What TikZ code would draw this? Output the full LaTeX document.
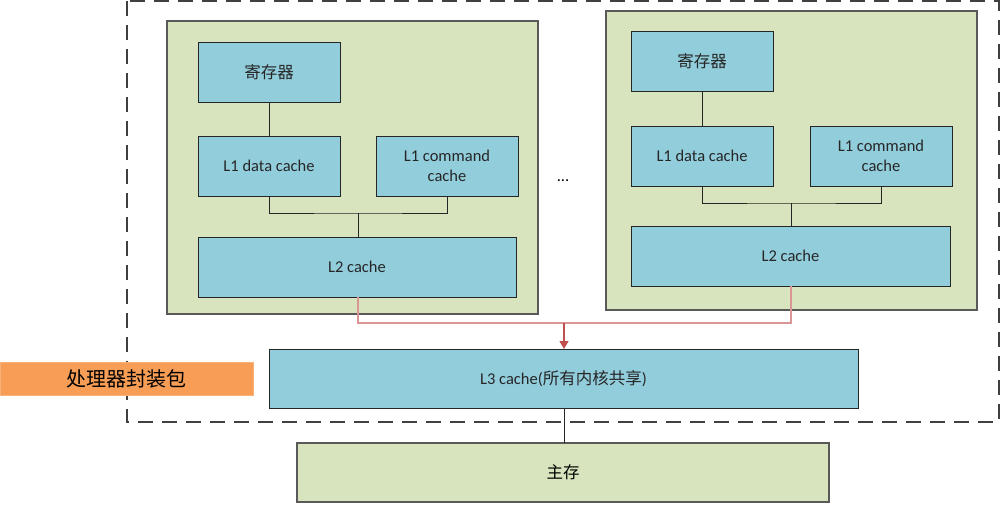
\documentclass[tikz,border=0pt]{standalone}
\usepackage{fontspec}
\setmainfont{Carlito}
\newfontfamily\cjk{Noto Sans CJK SC}
\usetikzlibrary{arrows.meta}
\definecolor{bluefill}{HTML}{92CDDC}
\definecolor{greenfill}{HTML}{D7E4BD}
\definecolor{orangefill}{HTML}{F79D55}
\definecolor{pinkline}{HTML}{D99694}
\definecolor{redline}{HTML}{C0504D}
\definecolor{greyline}{HTML}{595959}
\begin{document}
\begin{tikzpicture}[x=1pt,y=-1pt,
  box/.style={draw=black!85,line width=0.9pt,fill=bluefill,inner sep=0pt,outer sep=0pt,font=\fontsize{16.5}{20}\selectfont,align=center,text=black!85},
  corebox/.style={draw=greyline,line width=1.2pt,fill=greenfill,inner sep=0pt,outer sep=0pt},
  membox/.style={draw=greyline,line width=1.1pt,fill=greenfill,inner sep=0pt,outer sep=0pt,font=\fontsize{16.5}{20}\selectfont},
  link/.style={draw=black!85,line width=0.9pt},
  redlink/.style={draw=pinkline,line width=1.1pt},
  pkg/.style={draw=black!75,line width=1.2pt,dash pattern=on 15pt off 9pt}]
\useasboundingbox (0,0) rectangle (1001,504);
% package outline
\draw[pkg] (127,1) rectangle (999,422);
% core 1
\node[corebox,minimum width=371pt,minimum height=293pt] (core1) at (352.5,167.5) {};
\node[box,minimum width=142pt,minimum height=60pt] (reg1) at (269,72) {\cjk 寄存器};
\node[box,minimum width=142pt,minimum height=60pt] (d1) at (269,166) {L1 data cache};
\node[box,minimum width=142pt,minimum height=60pt] (c1) at (447,166) {L1 command\\cache};
\node[box,minimum width=318pt,minimum height=60pt] (l2a) at (357,267) {L2 cache};
% core 2
\node[corebox,minimum width=371pt,minimum height=299pt] (core2) at (791.5,160.5) {};
\node[box,minimum width=142pt,minimum height=60pt] (reg2) at (702,61) {\cjk 寄存器};
\node[box,minimum width=142pt,minimum height=60pt] (d2) at (702,156) {L1 data cache};
\node[box,minimum width=142pt,minimum height=60pt] (c2) at (881,156) {L1 command\\cache};
\node[box,minimum width=319pt,minimum height=60pt] (l2b) at (790.5,256) {L2 cache};
% dots
\node[font=\fontsize{16.5}{20}\selectfont] (dots) at (563,181) {...};
% L3 and memory
\node[box,minimum width=589pt,minimum height=59pt] (l3) at (563.5,378.5) {L3 cache({\cjk 所有内核共享})};
\node[membox,minimum width=532pt,minimum height=59pt] (mem) at (563,472.5) {\cjk 主存};
% package label
\node[fill=orangefill,draw=orangefill!80,inner sep=0pt,minimum width=253pt,minimum height=33pt,font=\cjk\fontsize{20}{24}\selectfont] (label) at (126.5,378.5) {处理器封装包};
% core 1 links
\coordinate (j1) at (358,213);
\draw[link] (reg1.south) -- (d1.north);
\draw[link] (d1.south) |- (j1) -| (c1.south);
\draw[link] (j1) -- (j1 |- l2a.north);
% core 2 links
\coordinate (j2) at (791,203);
\draw[link] (reg2.south) -- (d2.north);
\draw[link] (d2.south) |- (j2) -| (c2.south);
\draw[link] (j2) -- (j2 |- l2b.north);
% red links
\coordinate (r) at (564,323);
\draw[redlink] (l2a.south -| j1) |- (r);
\draw[redlink] (l2b.south -| j2) |- (r);
\draw[draw=redline,line width=1.1pt,-{Triangle[length=8pt,width=9pt]}] (r) -- (r |- l3.north);
% L3 to memory
\draw[link] (l3.south -| r) -- (mem.north -| r);
\end{tikzpicture}
\end{document}
